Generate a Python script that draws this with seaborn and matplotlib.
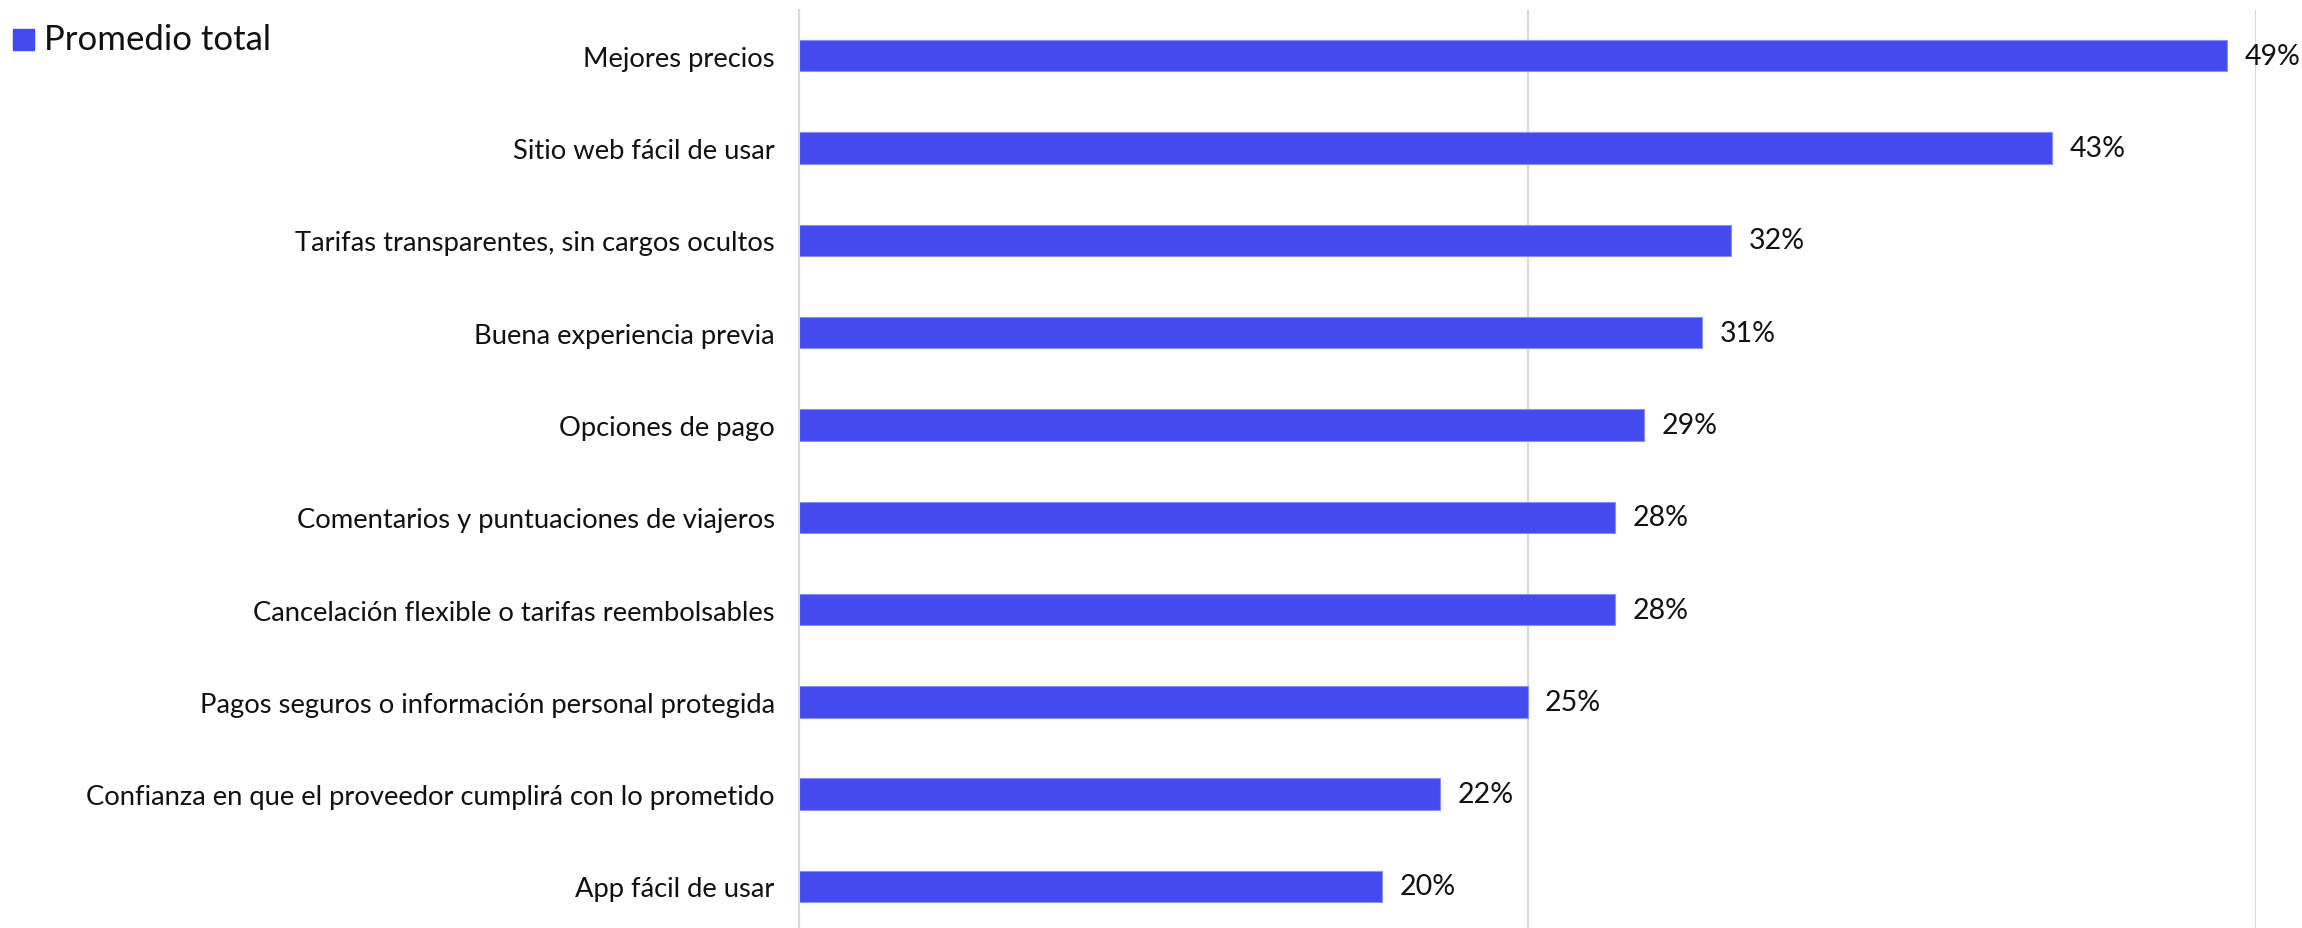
import matplotlib
matplotlib.use("Agg")
import matplotlib.pyplot as plt
import seaborn as sns
import pandas as pd

categories = [
    "Mejores precios",
    "Sitio web fácil de usar",
    "Tarifas transparentes, sin cargos ocultos",
    "Buena experiencia previa",
    "Opciones de pago",
    "Comentarios y puntuaciones de viajeros",
    "Cancelación flexible o tarifas reembolsables",
    "Pagos seguros o información personal protegida",
    "Confianza en que el proveedor cumplirá con lo prometido",
    "App fácil de usar",
]
values = [0.49, 0.43, 0.32, 0.31, 0.29, 0.28, 0.28, 0.25, 0.22, 0.20]
series_name = "Promedio total"
x_ticks = [0.0, 0.25, 0.5]

BAR = "#434bee"
W, H, DPI = 2302, 929, 100

sns.set_theme(style="white")
plt.rcParams["font.family"] = ["Lato", "DejaVu Sans"]

df = pd.DataFrame({"categoria": categories, "valor": values})

fig = plt.figure(figsize=(W / DPI, H / DPI), dpi=DPI)
ax = fig.add_axes([799 / W, 0.0, (2256 - 799) / W, 1 - 10.5 / H])

sns.barplot(data=df, y="categoria", x="valor", orient="h", color=BAR,
            width=0.34, saturation=1, ax=ax, edgecolor="#8a8ff3", linewidth=0.8)

ax.set_xlim(0, 0.5)
ax.set_ylim(9.45, -0.5)
ax.set_xticks(x_ticks)
ax.set_xticklabels([])
ax.tick_params(axis="x", length=0)
ax.tick_params(axis="y", length=0, pad=17.5, labelsize=19.7, labelcolor="#111111")
ax.grid(axis="x", color="#d9d9d9", linewidth=1.5)
ax.set_axisbelow(True)
for s in ["top", "right", "bottom"]:
    ax.spines[s].set_visible(False)
ax.spines["left"].set_color("#d9d9d9")
ax.spines["left"].set_linewidth(1.5)
ax.set_xlabel("")
ax.set_ylabel("")

for i, v in enumerate(values):
    ax.text(v + 0.006, i, f"{round(v * 100)}%", va="center", ha="left",
            fontsize=20.5, color="#111111", clip_on=False)

# legend in the top-left corner
fig.patches.append(plt.Rectangle((13 / W, 1 - 51 / H), 21 / W, 21 / H,
                                 transform=fig.transFigure, color=BAR))
fig.text(44 / W, 1 - 40.5 / H, series_name, ha="left", va="center",
         fontsize=25, color="#111111")

fig.savefig("out.png", dpi=DPI, facecolor="white")
